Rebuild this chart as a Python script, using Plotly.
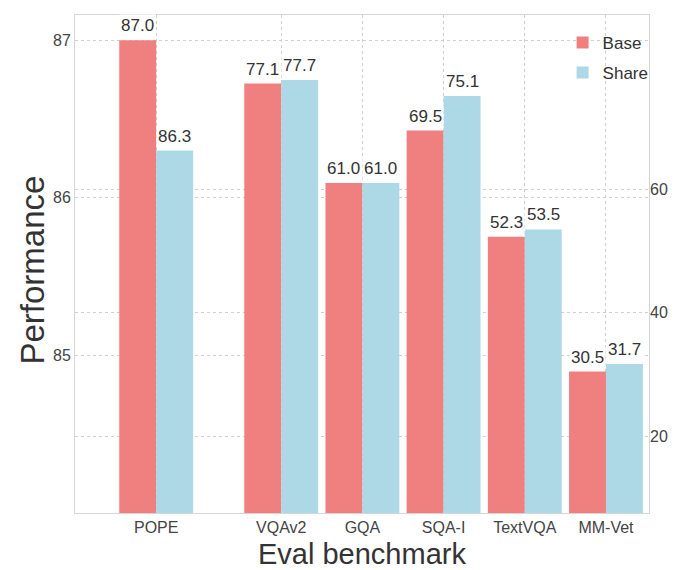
import plotly.graph_objects as go

# ---- data ----
pope_label = ["POPE"]
pope_base = [87.0]
pope_share = [86.3]

bench_labels = ["VQAv2", "GQA", "SQA-I", "TextVQA", "MM-Vet"]
bench_base = [77.1, 61.0, 69.5, 52.3, 30.5]
bench_share = [77.7, 61.0, 75.1, 53.5, 31.7]

left_ticks = [85, 86, 87]
right_ticks = [20, 40, 60]

# ---- layout constants ----
pope_pos = [0.0]
bench_pos = [1.54, 2.54, 3.54, 4.54, 5.54]
W = 0.455
BASE_C = "#F08080"
SHARE_C = "#ADD8E6"
FONT = "Liberation Sans, Arial, sans-serif"
TXT = "#333333"
TICK = "#444444"
GRID = "#cfcfcf"

fig = go.Figure()

fig.add_trace(go.Bar(x=pope_pos, y=pope_base, width=W, offset=-W, marker_color=BASE_C,
                     marker_line_width=0, name="Base", legendgroup="base", yaxis="y"))
fig.add_trace(go.Bar(x=pope_pos, y=pope_share, width=W, offset=0, marker_color=SHARE_C,
                     marker_line_width=0, name="Share", legendgroup="share", yaxis="y"))
fig.add_trace(go.Bar(x=bench_pos, y=bench_base, width=W, offset=-W, marker_color=BASE_C,
                     marker_line_width=0, name="Base", legendgroup="base", showlegend=False, yaxis="y2"))
fig.add_trace(go.Bar(x=bench_pos, y=bench_share, width=W, offset=0, marker_color=SHARE_C,
                     marker_line_width=0, name="Share", legendgroup="share", showlegend=False, yaxis="y2"))

annotations = []
def add_labels(xs, vals, dx, yref):
    for x, v in zip(xs, vals):
        annotations.append(dict(x=x + dx, y=v, xref="x", yref=yref, text=f"{v:.1f}",
                                showarrow=False, yanchor="bottom", yshift=3,
                                bgcolor="white", borderpad=1,
                                font=dict(family=FONT, size=17, color=TXT)))

add_labels(pope_pos, pope_base, -W / 2, "y")
add_labels(pope_pos, pope_share, W / 2, "y")
add_labels(bench_pos, bench_base, -W / 2, "y2")
add_labels(bench_pos, bench_share, W / 2, "y2")

# axis titles
annotations.append(dict(text="Eval benchmark", xref="paper", yref="paper", x=0.5, y=-0.0815,
                        xanchor="center", yanchor="middle", showarrow=False, borderpad=0,
                        font=dict(family=FONT, size=29, color=TXT)))
annotations.append(dict(text="Performance", xref="paper", yref="paper", x=-0.074, y=0.488,
                        xanchor="center", yanchor="middle", showarrow=False, textangle=-90,
                        font=dict(family=FONT, size=33, color=TXT)))

fig.update_layout(
    width=675, height=570,
    margin=dict(l=75, r=26, t=15, b=57, autoexpand=False),
    paper_bgcolor="white", plot_bgcolor="white",
    barmode="overlay",
    font=dict(family=FONT, color=TXT),
    annotations=annotations,
    showlegend=True,
    legend=dict(x=1.008, y=0.98, xanchor="right", yanchor="top",
                bgcolor="rgba(255,255,255,0)", font=dict(size=17, color=TXT),
                itemwidth=30, tracegroupgap=5),
    xaxis=dict(range=[-1.0, 6.07], tickvals=pope_pos + bench_pos,
               ticktext=pope_label + bench_labels, automargin=False,
               showgrid=True, gridcolor=GRID, griddash="dot", gridwidth=1,
               showline=True, linecolor="#d6d6d6", linewidth=1, mirror=True,
               ticks="", tickfont=dict(size=16, color=TICK), zeroline=False),
    yaxis=dict(range=[84.0, 87.16], tickvals=left_ticks, automargin=False,
               showgrid=True, gridcolor=GRID, griddash="dot", gridwidth=1,
               showline=True, linecolor="#d6d6d6", linewidth=1, mirror=True,
               ticks="", tickfont=dict(size=16, color=TICK), zeroline=False),
    yaxis2=dict(range=[7.6, 88.2], tickvals=right_ticks, overlaying="y", side="right",
                automargin=False,
                showgrid=True, gridcolor=GRID, griddash="dot", gridwidth=1,
                showline=False, ticks="", tickfont=dict(size=16, color=TICK), zeroline=False),
)

fig.write_html("out.html", config={"displayModeBar": False},
               post_script="document.body.style.margin='0';document.body.style.overflow='hidden';")
